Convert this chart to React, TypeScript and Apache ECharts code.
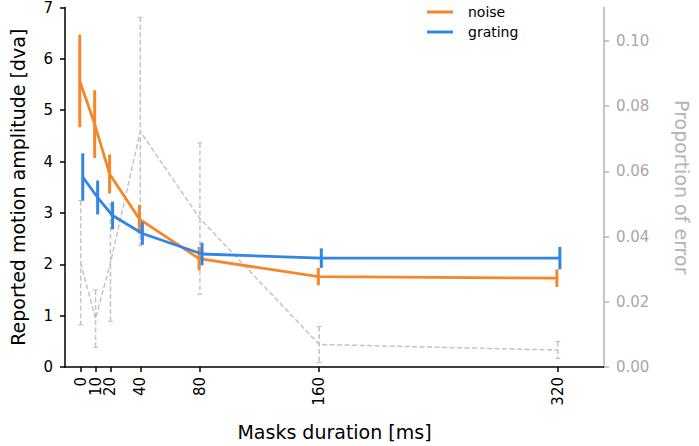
import React, { useEffect, useRef } from "react";
import * as echarts from "echarts";

const xTicks = [0, 10, 20, 40, 80, 160, 320];
const noiseMean = [5.57, 4.73, 3.76, 2.88, 2.11, 1.76, 1.73];
const noiseErr = [0.9, 0.66, 0.38, 0.28, 0.23, 0.17, 0.17];
const gratingMean = [3.7, 3.3, 2.95, 2.6, 2.2, 2.12, 2.12];
const gratingErr = [0.46, 0.33, 0.27, 0.22, 0.22, 0.19, 0.22];
const errorProp = [0.032, 0.0148, 0.032, 0.0722, 0.0455, 0.0069, 0.0052];
const errorPropErr = [0.019, 0.0088, 0.018, 0.035, 0.0232, 0.0055, 0.0026];
const rightTicks = [0, 0.02, 0.04, 0.06, 0.08, 0.1];

const NOISE_OFFSET = -0.6;
const GRATING_OFFSET = 1.4;

const ORANGE = "#f5862a";
const BLUE = "#3185e6";
const GRAY = "#c4c4c4";
const RIGHT_AXIS = "#b4b4b4";
const FONT = "DejaVu Sans";

export default function App() {
  const ref = useRef<HTMLDivElement>(null);
  useEffect(() => {
    if (!ref.current) return;
    const chart = echarts.init(ref.current, null, { renderer: "svg" });

    const noiseData = xTicks.map((x, i) => [x + NOISE_OFFSET, noiseMean[i], noiseErr[i]]);
    const gratingData = xTicks.map((x, i) => [x + GRATING_OFFSET, gratingMean[i], gratingErr[i]]);
    const errData = xTicks.map((x, i) => [x, errorProp[i], errorPropErr[i]]);

    const barRender = (color: string) => (params: any, api: any) => {
      const x = api.value(0), y = api.value(1), e = api.value(2);
      const t = api.coord([x, y + e]);
      const b = api.coord([x, y - e]);
      return {
        type: "line",
        shape: { x1: t[0], y1: t[1], x2: b[0], y2: b[1] },
        style: { stroke: color, lineWidth: 3 },
      };
    };

    const grayRender = (params: any, api: any) => {
      const x = api.value(0), y = api.value(1), e = api.value(2);
      const t = api.coord([x, y + e]);
      const b = api.coord([x, y - e]);
      return {
        type: "group",
        children: [
          { type: "line", shape: { x1: t[0], y1: t[1], x2: b[0], y2: b[1] }, style: { stroke: GRAY, lineWidth: 1.5, lineDash: [5, 2.5] } },
          { type: "line", shape: { x1: t[0] - 2.5, y1: t[1], x2: t[0] + 2.5, y2: t[1] }, style: { stroke: GRAY, lineWidth: 1.2 } },
          { type: "line", shape: { x1: b[0] - 2.5, y1: b[1], x2: b[0] + 2.5, y2: b[1] }, style: { stroke: GRAY, lineWidth: 1.2 } },
        ],
      };
    };

    chart.setOption({
      animation: false,
      grid: { left: 57, right: 91, top: 6, bottom: 78, containLabel: false },
      legend: {
        data: ["noise", "grating"],
        orient: "vertical",
        left: 427,
        top: 5,
        padding: 0,
        icon: "rect",
        itemWidth: 26,
        itemHeight: 3,
        itemGap: 6,
        textStyle: { fontFamily: FONT, fontSize: 14, color: "#000", padding: [0, 0, 0, 10] },
      },
      xAxis: {
        type: "value",
        min: -10.5,
        max: 351,
        name: "Masks duration [ms]",
        nameLocation: "middle",
        nameGap: 55,
        nameTextStyle: { fontFamily: FONT, fontSize: 19, color: "#000" },
        splitLine: { show: false },
        axisLine: { show: true, onZero: false, lineStyle: { color: "#000", width: 1.5 } },
        axisTick: { show: true, length: 5, customValues: xTicks, lineStyle: { color: "#000", width: 1.5 } },
        axisLabel: {
          customValues: xTicks,
          rotate: 90,
          margin: 10,
          fontFamily: FONT,
          fontSize: 15,
          color: "#000",
        },
      },
      yAxis: [
        {
          type: "value",
          min: 0,
          max: 7,
          interval: 1,
          position: "left",
          name: "Reported motion amplitude [dva]",
          nameLocation: "middle",
          nameGap: 38,
          nameTextStyle: { fontFamily: FONT, fontSize: 19, color: "#000" },
          splitLine: { show: false },
          axisLine: { show: true, onZero: false, lineStyle: { color: "#000", width: 1.5 } },
          axisTick: { show: true, length: 5, lineStyle: { color: "#000", width: 1.5 } },
          axisLabel: { margin: 12, fontFamily: FONT, fontSize: 15, color: "#000" },
        },
        {
          type: "value",
          min: 0,
          max: 0.1102,
          position: "right",
          name: "Proportion of error",
          nameLocation: "middle",
          nameRotate: -90,
          nameGap: 68,
          nameTextStyle: { fontFamily: FONT, fontSize: 19, color: RIGHT_AXIS },
          splitLine: { show: false },
          axisLine: { show: true, onZero: false, lineStyle: { color: RIGHT_AXIS, width: 1.5 } },
          axisTick: { show: true, length: 5, customValues: rightTicks, lineStyle: { color: RIGHT_AXIS, width: 1.5 } },
          axisLabel: {
            customValues: rightTicks,
            margin: 12,
            fontFamily: FONT,
            fontSize: 15,
            color: "#a8a8a8",
            formatter: (v: number) => v.toFixed(2),
          },
        },
      ],
      series: [
        {
          name: "error",
          type: "line",
          yAxisIndex: 1,
          data: errData.map((d) => [d[0], d[1]]),
          symbol: "none",
          lineStyle: { color: GRAY, width: 1.5, type: [5, 2.5] },
          z: 1,
        },
        {
          name: "errorBars",
          type: "custom",
          yAxisIndex: 1,
          data: errData,
          encode: { x: 0, y: 1 },
          renderItem: grayRender,
          z: 1,
        },
        {
          name: "noise",
          type: "line",
          data: noiseData.map((d) => [d[0], d[1]]),
          symbol: "none",
          color: ORANGE,
          lineStyle: { color: ORANGE, width: 2.8 },
          z: 3,
        },
        {
          name: "noiseBars",
          type: "custom",
          data: noiseData,
          encode: { x: 0, y: 1 },
          renderItem: barRender(ORANGE),
          z: 3,
        },
        {
          name: "grating",
          type: "line",
          data: gratingData.map((d) => [d[0], d[1]]),
          symbol: "none",
          color: BLUE,
          lineStyle: { color: BLUE, width: 2.8 },
          z: 4,
        },
        {
          name: "gratingBars",
          type: "custom",
          data: gratingData,
          encode: { x: 0, y: 1 },
          renderItem: barRender(BLUE),
          z: 4,
        },
      ],
    });
    return () => chart.dispose();
  }, []);
  return (
    <div
      ref={ref}
      style={{ position: "fixed", left: 0, top: 0, width: 699, height: 446, background: "#fff" }}
    />
  );
}
